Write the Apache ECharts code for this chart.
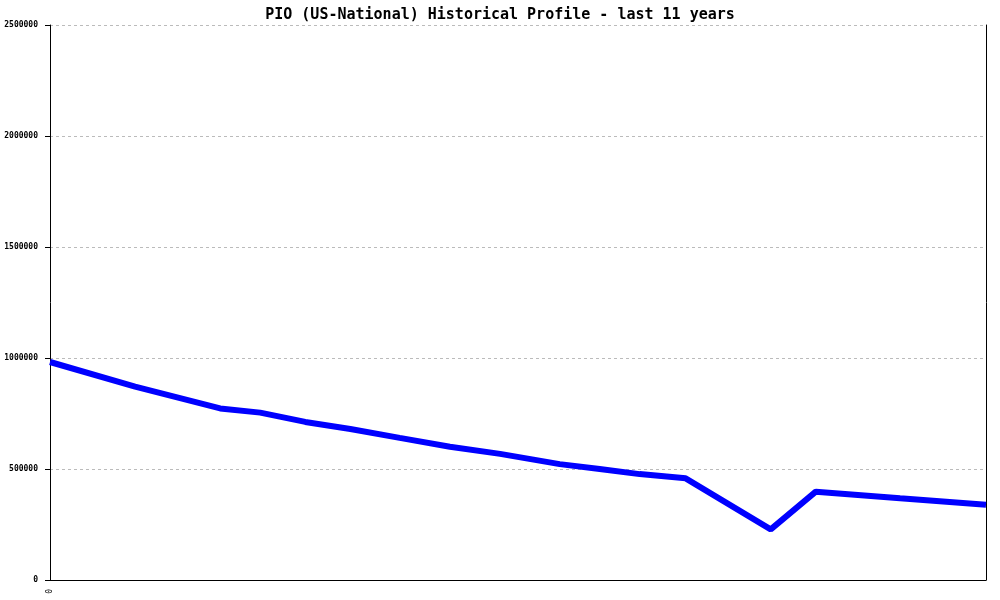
<!DOCTYPE html>
<html>
<head>
<meta charset="utf-8">
<script src="https://cdn.jsdelivr.net/npm/echarts@6/dist/echarts.min.js"></script>
<style>html,body{margin:0;padding:0;background:#fff}#c{width:1000px;height:600px}</style>
</head>
<body>
<div id="c"></div>
<script>
var titleText = 'PIO (US-National) Historical Profile - last 11 years';
var years = [0, 1, 2, 2.47, 3, 3.53, 4.11, 4.7, 5.29, 5.99, 6.46, 6.93, 7.47, 8.47, 9.0, 9.99, 11];
var values = [982000, 871000, 773000, 754000, 712000, 680000, 640000, 600000, 568000, 522000, 500000, 477000, 458000, 228000, 398000, 368000, 339000];
var yTicks = [0, 500000, 1000000, 1500000, 2000000, 2500000];

var chart = echarts.init(document.getElementById('c'));
var data = years.map(function (x, i) { return [x, values[i]]; });
chart.setOption({
  animation: false,
  backgroundColor: '#ffffff',
  title: {
    text: titleText, left: 'center', top: 3,
    textStyle: { fontFamily: 'DejaVu Sans Mono', fontSize: 15, fontWeight: 'bold', color: '#000' }
  },
  grid: { left: 50, right: 14, top: 25, bottom: 20 },
  xAxis: {
    type: 'value', min: 0, max: 11, interval: 11,
    axisLine: { show: true, lineStyle: { color: '#000', width: 1 } },
    axisTick: { show: false },
    splitLine: { show: false },
    axisLabel: {
      rotate: 90, fontFamily: 'DejaVu Sans Mono', fontSize: 8, color: '#000', margin: 9,
      formatter: function (v) { return v === 0 ? '0' : ''; }
    }
  },
  yAxis: [{
    type: 'value', min: 0, max: 2500000, interval: 500000,
    axisLine: { show: true, lineStyle: { color: '#000', width: 1 } },
    axisTick: { show: true, length: 5, lineStyle: { color: '#000' } },
    axisLabel: { fontFamily: 'DejaVu Sans Mono', fontSize: 8, fontWeight: 'bold', color: '#000', margin: 12,
      formatter: function (v) { return yTicks.indexOf(v) >= 0 ? String(v) : ''; } },
    splitLine: { show: true, lineStyle: { color: '#bbbbbb', type: [3, 3], width: 1 } }
  }, {
    type: 'value', min: 0, max: 2500000, position: 'right',
    axisLine: { show: true, lineStyle: { color: '#000', width: 1 } },
    axisTick: { show: false }, axisLabel: { show: false }, splitLine: { show: false }
  }],
  series: [{
    type: 'line', data: data, showSymbol: false, symbol: 'none',
    lineStyle: { color: '#0000ff', width: 6 }, itemStyle: { color: '#0000ff' }
  }]
});
</script>
</body>
</html>
